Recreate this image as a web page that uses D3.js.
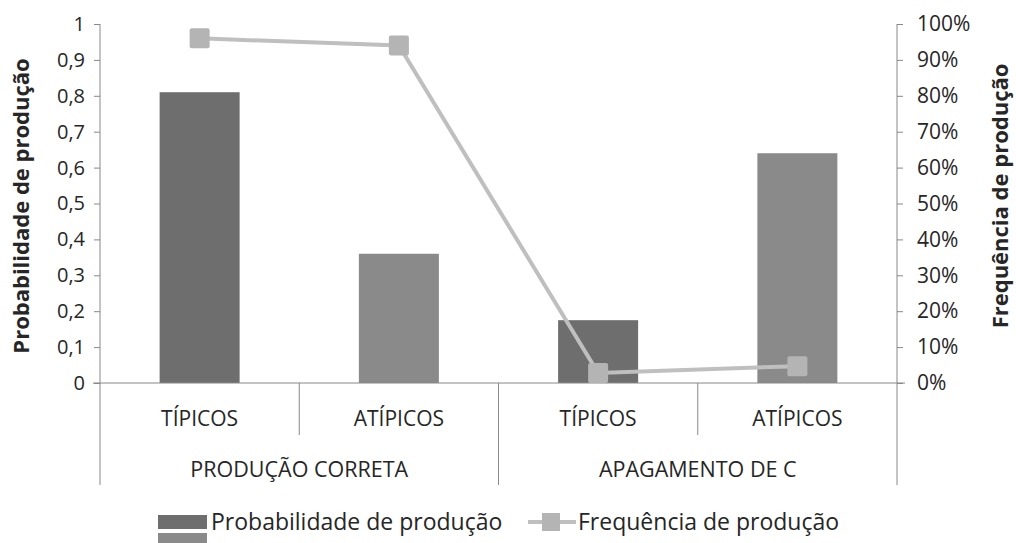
<!DOCTYPE html>
<html><head><meta charset="utf-8">
<script src="https://cdn.jsdelivr.net/npm/d3@7"></script>
<style>body{margin:0;background:#fff}svg{display:block}text{font-family:"Open Sans",sans-serif;fill:#262626}</style>
</head><body><svg id="c" width="1016" height="543"></svg>
<script>
const groups = ["PRODUÇÃO CORRETA","APAGAMENTO DE C"];
const categories = ["TÍPICOS","ATÍPICOS","TÍPICOS","ATÍPICOS"];
const probabilidade = [0.81,0.36,0.175,0.64];
const frequencia = [0.96,0.94,0.028,0.047];
const leftTicks = [0,0.1,0.2,0.3,0.4,0.5,0.6,0.7,0.8,0.9,1];
const rightTicks = [0,0.1,0.2,0.3,0.4,0.5,0.6,0.7,0.8,0.9,1];
const barColors = ["#6e6e6e","#8a8a8a","#6e6e6e","#8a8a8a"];

const svg = d3.select("#c");
const L=100,R=897,T=24,B=383;
const x = d3.scaleBand().domain(d3.range(4)).range([L,R]);
const y = d3.scaleLinear().domain([0,1]).range([B,T]);
const y2 = d3.scaleLinear().domain([0,1]).range([B,T]);
const fmt = d=> d===0?"0":d===1?"1":d3.format(".1f")(d).replace(".",",");

const ga = svg.append("g").attr("transform",`translate(${L},0)`)
 .call(d3.axisLeft(y).tickValues(leftTicks).tickFormat(fmt).tickSize(6).tickPadding(9));
const gb = svg.append("g").attr("transform",`translate(${R},0)`)
 .call(d3.axisRight(y2).tickValues(rightTicks).tickFormat(d3.format(".0%")).tickSize(6).tickPadding(14));
[ga,gb].forEach(g=>{g.selectAll("path,line").attr("stroke","#888");g.selectAll("text").style("font-size","20px").attr("fill","#262626");g.select(".domain").attr("d",`M0,${T}V${B}`);});
gb.selectAll("text").style("font-size","21px");

// bars
svg.append("g").selectAll("rect").data(probabilidade).join("rect")
 .attr("x",(d,i)=>x(i)+x.bandwidth()/2-40).attr("width",80)
 .attr("y",d=>y(d)).attr("height",d=>B-y(d)).attr("fill",(d,i)=>barColors[i]);

// x axis lines
svg.append("line").attr("x1",93).attr("x2",905).attr("y1",B).attr("y2",B).attr("stroke","#888");
[0,1,2,3,4].forEach(i=>{
  const xx = i<4? x(i): R;
  const long = i%2===0;
  svg.append("line").attr("x1",xx).attr("x2",xx).attr("y1",B).attr("y2",long?485:435).attr("stroke","#888");
});
svg.append("g").selectAll("text").data(categories).join("text")
 .attr("x",(d,i)=>x(i)+x.bandwidth()/2).attr("y",426).attr("text-anchor","middle").style("font-size","21px").text(d=>d);
svg.append("g").selectAll("text").data(groups).join("text")
 .attr("x",(d,i)=>x(i*2)+x.bandwidth()).attr("y",477).attr("text-anchor","middle").style("font-size","21.5px").text(d=>d);

// line
const line = d3.line().x((d,i)=>x(i)+x.bandwidth()/2).y(d=>y2(d));
svg.append("path").datum(frequencia).attr("d",line).attr("fill","none").attr("stroke","#bfbfbf").attr("stroke-width",4);
svg.append("g").selectAll("rect").data(frequencia).join("rect")
 .attr("x",(d,i)=>x(i)+x.bandwidth()/2-10).attr("y",d=>y2(d)-10).attr("width",20).attr("height",20).attr("rx",2).attr("fill","#b4b4b4");

// titles
svg.append("text").attr("transform","translate(29,206) rotate(-90)").attr("text-anchor","middle").style("font-size","22px").style("font-weight","bold").text("Probabilidade de produção");
svg.append("text").attr("transform","translate(1008,196) rotate(-90)").attr("text-anchor","middle").style("font-size","22px").style("font-weight","bold").text("Frequência de produção");

// legend
svg.append("rect").attr("x",158).attr("y",515).attr("width",49).attr("height",14).attr("fill","#6e6e6e");
svg.append("rect").attr("x",158).attr("y",533).attr("width",49).attr("height",14).attr("fill","#8a8a8a");
svg.append("text").attr("x",211).attr("y",530).style("font-size","23px").text("Probabilidade de produção");
svg.append("line").attr("x1",528).attr("x2",576).attr("y1",522).attr("y2",522).attr("stroke","#bfbfbf").attr("stroke-width",4);
svg.append("rect").attr("x",542).attr("y",513).attr("width",18).attr("height",18).attr("fill","#b4b4b4");
svg.append("text").attr("x",578).attr("y",530).style("font-size","23px").text("Frequência de produção");
</script></body></html>
